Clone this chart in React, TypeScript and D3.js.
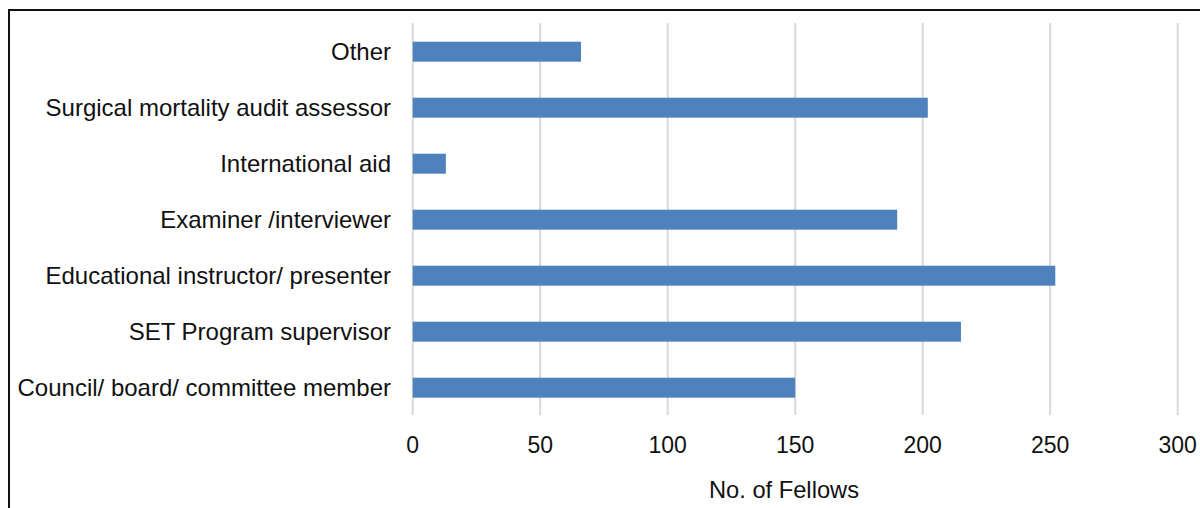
import React from "react";
import * as d3 from "d3";

const categories = [
  "Other",
  "Surgical mortality audit assessor",
  "International aid",
  "Examiner /interviewer",
  "Educational instructor/ presenter",
  "SET Program supervisor",
  "Council/ board/ committee member",
];
const values = [66, 202, 13, 190, 252, 215, 150];
const xTicks = [0, 50, 100, 150, 200, 250, 300];
const xTitle = "No. of Fellows";

export default function App() {
  const W = 1200, H = 508;
  const x = d3.scaleLinear().domain([0, 300]).range([412.7, 1177.7]);
  const pi = 0.643;
  const y = d3
    .scaleBand<string>()
    .domain(categories)
    .range([23.7, 415.7])
    .paddingInner(pi)
    .paddingOuter(pi / 2);
  const font = "'Liberation Sans', Arial, sans-serif";
  return (
    <svg
      width={W}
      height={H}
      style={{ position: "absolute", left: 0, top: 0, background: "#fff" }}
    >
      <rect x={0} y={0} width={W} height={H} fill="#fff" />
      <rect x={9} y={10} width={1400} height={700} fill="none" stroke="#111" strokeWidth={2} />
      {xTicks.map((t) => (
        <line key={t} x1={x(t)} x2={x(t)} y1={23} y2={415} stroke="#d9d9d9" strokeWidth={2} />
      ))}
      {categories.map((c, i) => (
        <rect
          key={c}
          x={x(0)}
          y={y(c)!}
          width={x(values[i]) - x(0)}
          height={y.bandwidth()}
          fill="#4f81bd"
        />
      ))}
      {categories.map((c) => (
        <text
          key={c}
          x={391}
          y={y(c)! + y.bandwidth() / 2}
          dy="0.35em"
          textAnchor="end"
          fontFamily={font}
          fontSize={24}
          fill="#111"
        >
          {c}
        </text>
      ))}
      {xTicks.map((t) => (
        <text
          key={t}
          x={x(t)}
          y={453}
          textAnchor="middle"
          fontFamily={font}
          fontSize={23}
          fill="#111"
        >
          {t}
        </text>
      ))}
      <text x={784} y={498} textAnchor="middle" fontFamily={font} fontSize={23.7} fill="#111">
        {xTitle}
      </text>
    </svg>
  );
}
